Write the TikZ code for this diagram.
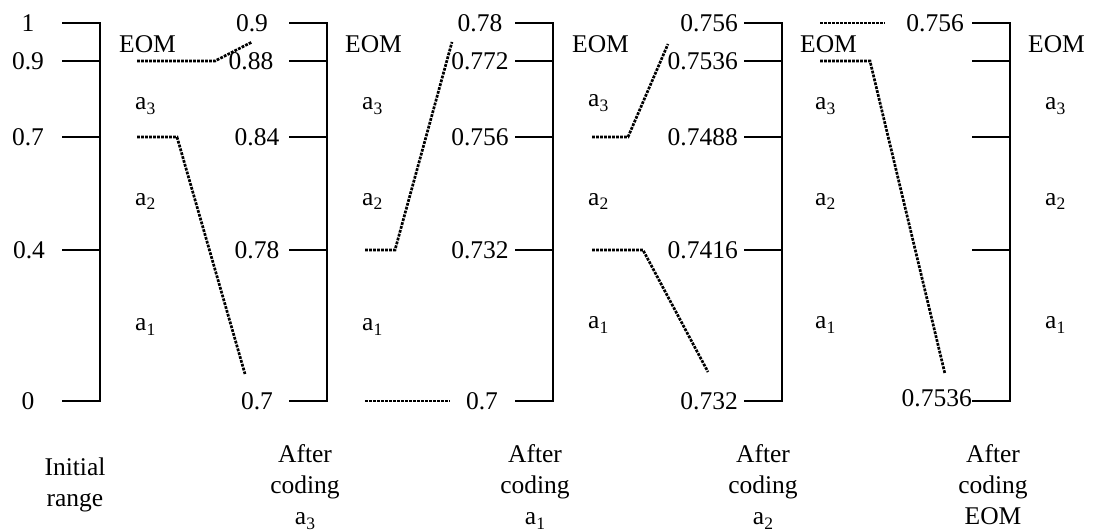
\documentclass[tikz,border=0pt]{standalone}
\usepackage{fontspec}
\setmainfont{Liberation Serif}
% lowered index digit, as in a_3
\newcommand\lowidx[1]{\raisebox{-5pt}{\fontsize{17.5}{20}\selectfont #1}}
\begin{document}
\begin{tikzpicture}[x=1pt,y=-1pt,
  font=\fontsize{25.5}{31}\selectfont,
  scale line/.style={line width=1.7pt, line join=miter},
  guide/.style={line width=2.7pt, dash pattern=on 2.8pt off 1.2pt},
  val/.style={inner sep=0pt},
  sym/.style={inner sep=0pt, anchor=base west},
  caption/.style={inner sep=0pt, anchor=north, align=center}]
\useasboundingbox (0,0) rectangle (1096,532);

% five scales: a vertical bar with five ticks each
\foreach \c/\x in {1/100,2/327,3/553,4/782,5/1010}{
  \foreach \k/\y in {1/23,2/61,3/137,4/250,5/401}{
    \coordinate (tl\c\k) at ({\x-38},\y);
    \coordinate (tr\c\k) at (\x,\y);
  }
  \draw[scale line] (tl\c1) -- (tr\c1) -- (tr\c5) -- (tl\c5);
  \foreach \k in {2,3,4}{ \draw[scale line] (tl\c\k) -- (tr\c\k); }
}

% tick values
\node[val] (v11) at (28,23)  {1};
\node[val] (v12) at (28,61)  {0.9};
\node[val] (v13) at (28,137) {0.7};
\node[val] (v14) at (29,250) {0.4};
\node[val] (v15) at (28,401) {0};

\node[val] (v21) at (252,23)  {0.9};
\node[val] (v22) at (251,61)  {0.88};
\node[val] (v23) at (257,137) {0.84};
\node[val] (v24) at (257,250) {0.78};
\node[val] (v25) at (257,401) {0.7};

\node[val] (v31) at (480,23)  {0.78};
\node[val] (v32) at (480,61)  {0.772};
\node[val] (v33) at (480,137) {0.756};
\node[val] (v34) at (480,250) {0.732};
\node[val] (v35) at (482,401) {0.7};

\node[val,anchor=east] (v41) at (738,23)  {0.756};
\node[val,anchor=east] (v42) at (738,61)  {0.7536};
\node[val,anchor=east] (v43) at (738,137) {0.7488};
\node[val,anchor=east] (v44) at (738,250) {0.7416};
\node[val,anchor=east] (v45) at (738,401) {0.732};

\node[val,anchor=east] (v51) at (964,23)  {0.756};
\node[val,anchor=east] (v55) at (972,398) {0.7536};

% symbol intervals
\foreach \c/\x in {1/119,2/345,3/572,4/800,5/1028}{
  \node[sym] (eom\c) at (\x,53) {EOM};
}
\node[sym] (s13) at (135,110) {a\lowidx{3}};
\node[sym] (s12) at (135,205) {a\lowidx{2}};
\node[sym] (s11) at (135,330) {a\lowidx{1}};
\node[sym] (s23) at (362,110) {a\lowidx{3}};
\node[sym] (s22) at (362,205) {a\lowidx{2}};
\node[sym] (s21) at (362,330) {a\lowidx{1}};
\node[sym] (s33) at (588,107) {a\lowidx{3}};
\node[sym] (s32) at (588,205) {a\lowidx{2}};
\node[sym] (s31) at (588,328) {a\lowidx{1}};
\node[sym] (s43) at (815,110) {a\lowidx{3}};
\node[sym] (s42) at (815,205) {a\lowidx{2}};
\node[sym] (s41) at (815,328) {a\lowidx{1}};
\node[sym] (s53) at (1045,110) {a\lowidx{3}};
\node[sym] (s52) at (1045,205) {a\lowidx{2}};
\node[sym] (s51) at (1045,328) {a\lowidx{1}};

% dotted guides to the next scale
\coordinate (g1a) at (137,61);  \coordinate (g1b) at (215,61);  \coordinate (g1c) at (252,42);
\coordinate (g2a) at (137,137); \coordinate (g2b) at (177,137); \coordinate (g2c) at (245,374);
\coordinate (g3a) at (365,250); \coordinate (g3b) at (395,250); \coordinate (g3c) at (452,42);
\coordinate (g4a) at (365,401); \coordinate (g4b) at (450,401);
\coordinate (g5a) at (592,137); \coordinate (g5b) at (628,137); \coordinate (g5c) at (668,44);
\coordinate (g6a) at (592,250); \coordinate (g6b) at (643,250); \coordinate (g6c) at (708,372);
\coordinate (g7a) at (820,23);  \coordinate (g7b) at (885,23);
\coordinate (g8a) at (820,61);  \coordinate (g8b) at (870,61);  \coordinate (g8c) at (945,374);
\draw[guide] (g1a) -- (g1b) -- (g1c);
\draw[guide] (g2a) -- (g2b) -- (g2c);
\draw[guide] (g3a) -- (g3b) -- (g3c);
\draw[guide] (g4a) -- (g4b);
\draw[guide] (g5a) -- (g5b) -- (g5c);
\draw[guide] (g6a) -- (g6b) -- (g6c);
\draw[guide] (g7a) -- (g7b);
\draw[guide] (g8a) -- (g8b) -- (g8c);

% captions
\node[caption] (cap1) at (75,458)  {Initial\\range};
\node[caption] (cap2) at (305,444) {After\\coding\\a\lowidx{3}};
\node[caption] (cap3) at (535,444) {After\\coding\\a\lowidx{1}};
\node[caption] (cap4) at (763,444) {After\\coding\\a\lowidx{2}};
\node[caption] (cap5) at (993,444) {After\\coding\\EOM};
\end{tikzpicture}
\end{document}
